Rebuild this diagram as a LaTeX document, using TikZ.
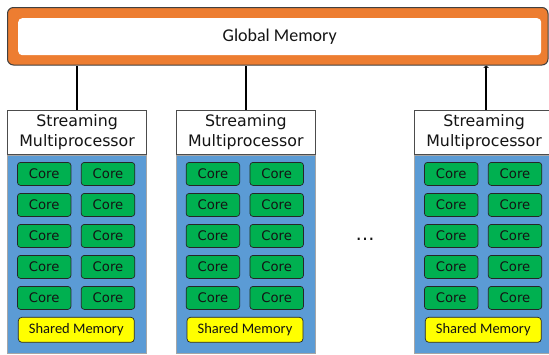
\documentclass[tikz,border=0pt]{standalone}
\usepackage{fontspec}
\setmainfont{DejaVu Sans}
\newfontfamily\calfont{Carlito}
\usetikzlibrary{arrows.meta}
\definecolor{gmorange}{HTML}{ED7D31}
\definecolor{smblue}{HTML}{5B9BD5}
\definecolor{coregreen}{HTML}{00B050}
\definecolor{shyellow}{HTML}{FFFF00}
\definecolor{txt}{HTML}{141414}
\tikzset{
  gmouter/.style={draw=black!75, line width=1pt, fill=gmorange, rounded corners=6pt,
    minimum width=540.5pt, minimum height=57.5pt, inner sep=0pt},
  gminner/.style={fill=white, rounded corners=4pt, minimum width=523pt, minimum height=37pt,
    inner sep=0pt, text=txt, font=\calfont\fontsize{18}{20}\selectfont},
  smtitle/.style={draw=black!70, line width=0.6pt, fill=white, minimum width=139pt,
    minimum height=44pt, inner sep=0pt, align=center, text=txt,
    font=\fontsize{15.8}{20}\selectfont},
  smbody/.style={draw=black!35, line width=0.6pt, fill=smblue, minimum width=139pt,
    minimum height=198.5pt, inner sep=0pt},
  core/.style={draw=black!85, line width=0.7pt, fill=coregreen, rounded corners=3pt,
    minimum width=53.5pt, minimum height=23pt, inner sep=0pt, text=txt,
    font=\fontsize{13.2}{14}\selectfont},
  shmem/.style={draw=black!85, line width=0.7pt, fill=shyellow, rounded corners=3.5pt,
    minimum width=116pt, minimum height=25pt, inner sep=0pt, text=txt,
    font=\calfont\fontsize{14.5}{16}\selectfont},
  link/.style={line width=1.8pt, draw=black}
}
\begin{document}
\begin{tikzpicture}[x=1pt, y=-1pt]
\clip (0,0) rectangle (549,354);

% global memory bar
\node[gmouter, anchor=north west] (gm) at (7,7) {};
\node[gminner, anchor=north west] (gmtext) at (18,18) {Global Memory};

% streaming multiprocessors
\foreach \i/\xl in {1/7.3, 2/176, 3/414.3} {
  \node[smtitle, anchor=north west] (t\i) at (\xl,110) {Streaming\\Multiprocessor};
  \node[smbody, anchor=north west] (b\i) at (t\i.south west) {};
  \foreach \r in {0,...,4} {
    \pgfmathsetmacro\dy{19.3+31*\r}
    \node[core] (c\i-\r-a) at ([shift={(36.9,\dy)}]b\i.north west) {Core};
    \node[core] (c\i-\r-b) at ([shift={(100.7,\dy)}]b\i.north west) {Core};
  }
  \node[shmem] (s\i) at ([shift={(69,175.2)}]b\i.north west) {Shared Memory};
}

% connections to global memory
\draw[link] (t1.north) -- (t1.north |- gm.south);
\draw[link] (t2.north) -- (t2.north |- gm.south);
\draw[link, -{Latex[length=2pt, width=6pt]}] ([xshift=2pt]t3.north) -- ([xshift=2pt]t3.north |- gm.south);

% ellipsis between the processors
\node[anchor=base, text=txt, font=\fontsize{19}{20}\selectfont] (dots) at (365,240) {…};
\end{tikzpicture}
\end{document}
